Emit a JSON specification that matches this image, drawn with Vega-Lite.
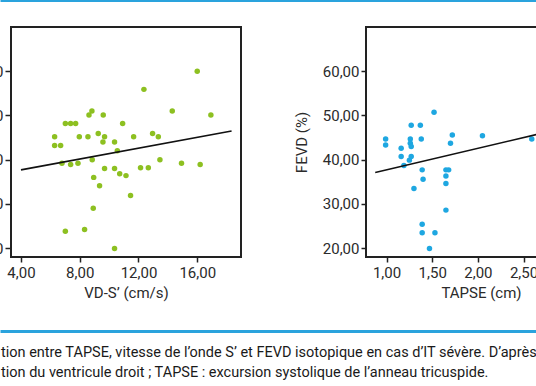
{
  "$schema": "https://vega.github.io/schema/vega-lite/v6.json",
  "background": "white",
  "padding": {"left": -62, "top": 0, "right": -61, "bottom": 0},
  "config": {
    "font": "Roboto",
    "axis": {"labelFont": "Roboto", "titleFont": "Roboto", "labelFontSize": 15, "titleFontSize": 15, "labelColor": "#2b2b2b", "titleColor": "#2b2b2b", "titleFontWeight": "normal", "grid": false, "domain": false, "tickColor": "#222222", "tickWidth": 1.5},
    "view": {"stroke": "#222222", "strokeWidth": 2}
  },
  "datasets": {
    "vds": [
      {"s": 16.0, "fevd": 60.0}, {"s": 12.37, "fevd": 55.9}, {"s": 14.3, "fevd": 51.0}, {"s": 16.93, "fevd": 50.1},
      {"s": 8.83, "fevd": 51.0}, {"s": 8.63, "fevd": 50.1}, {"s": 9.6, "fevd": 50.1}, {"s": 7.02, "fevd": 48.2},
      {"s": 7.38, "fevd": 48.2}, {"s": 7.72, "fevd": 48.2}, {"s": 10.92, "fevd": 48.2}, {"s": 6.29, "fevd": 45.2},
      {"s": 7.97, "fevd": 45.2}, {"s": 8.56, "fevd": 45.2}, {"s": 9.26, "fevd": 45.9}, {"s": 9.69, "fevd": 45.2},
      {"s": 9.58, "fevd": 44.0}, {"s": 11.67, "fevd": 45.2}, {"s": 12.96, "fevd": 45.9}, {"s": 13.35, "fevd": 45.2},
      {"s": 6.29, "fevd": 43.2}, {"s": 6.7, "fevd": 43.2}, {"s": 10.37, "fevd": 44.0}, {"s": 10.56, "fevd": 42.0},
      {"s": 6.79, "fevd": 39.2}, {"s": 7.38, "fevd": 38.9}, {"s": 7.88, "fevd": 39.2}, {"s": 8.85, "fevd": 40.0},
      {"s": 9.69, "fevd": 38.0}, {"s": 10.37, "fevd": 38.0}, {"s": 10.72, "fevd": 36.8}, {"s": 11.15, "fevd": 36.4},
      {"s": 12.14, "fevd": 38.2}, {"s": 12.67, "fevd": 38.2}, {"s": 13.46, "fevd": 40.0}, {"s": 14.93, "fevd": 39.2},
      {"s": 16.2, "fevd": 38.9}, {"s": 8.95, "fevd": 36.0}, {"s": 9.35, "fevd": 34.1}, {"s": 11.46, "fevd": 31.9},
      {"s": 8.92, "fevd": 29.0}, {"s": 7.02, "fevd": 23.8}, {"s": 8.33, "fevd": 24.2}, {"s": 10.37, "fevd": 19.9}
    ],
    "tapse": [
      {"t": 1.52, "fevd": 50.75}, {"t": 1.27, "fevd": 47.8}, {"t": 1.37, "fevd": 47.8}, {"t": 0.99, "fevd": 44.7},
      {"t": 0.99, "fevd": 43.3}, {"t": 1.26, "fevd": 44.7}, {"t": 1.26, "fevd": 43.7}, {"t": 1.27, "fevd": 43.0},
      {"t": 1.38, "fevd": 44.7}, {"t": 1.16, "fevd": 42.6}, {"t": 1.16, "fevd": 40.7}, {"t": 1.27, "fevd": 40.7},
      {"t": 1.25, "fevd": 39.9}, {"t": 1.19, "fevd": 38.7}, {"t": 1.39, "fevd": 37.7}, {"t": 1.4, "fevd": 35.6},
      {"t": 1.3, "fevd": 33.5}, {"t": 1.72, "fevd": 45.6}, {"t": 1.7, "fevd": 43.7}, {"t": 2.05, "fevd": 45.4},
      {"t": 2.59, "fevd": 44.7}, {"t": 1.65, "fevd": 37.7}, {"t": 1.68, "fevd": 37.7}, {"t": 1.65, "fevd": 36.3},
      {"t": 1.65, "fevd": 34.6}, {"t": 1.65, "fevd": 28.6}, {"t": 1.39, "fevd": 25.4}, {"t": 1.39, "fevd": 23.5},
      {"t": 1.53, "fevd": 23.5}, {"t": 1.47, "fevd": 19.9}
    ],
    "fitL": [{"s": 4.0, "fevd": 37.7}, {"s": 18.34, "fevd": 46.5}],
    "fitR": [{"t": 0.876, "fevd": 37.1}, {"t": 3.2, "fevd": 48.4}],
    "caption": [
      {"line": 1, "text": "tion entre TAPSE, vitesse de l’onde S’ et FEVD isotopique en cas d’IT sévère. D’après"},
      {"line": 2, "text": "tion du ventricule droit ; TAPSE : excursion systolique de l’anneau tricuspide."}
    ]
  },
  "spacing": 25,
  "vconcat": [
    {
      "data": {"values": [{}]},
      "width": 560,
      "height": 1,
      "view": {"stroke": null},
      "mark": {"type": "rule", "opacity": 0},
      "encoding": {
        "x": {"datum": 0, "type": "quantitative", "scale": {"domain": [0, 1]},
          "axis": {"orient": "top", "position": -11, "domain": true, "domainColor": "#2aa3dd", "domainWidth": 3, "ticks": false, "labels": false, "title": null}}
      }
    },
    {
      "hconcat": [
        {
          "width": 230,
          "height": 230,
          "layer": [
            {
              "data": {"name": "vds"},
              "mark": {"type": "circle", "size": 30, "color": "#8dc021", "opacity": 1},
              "encoding": {
                "x": {"field": "s", "type": "quantitative", "scale": {"domain": [3.32, 18.98], "nice": false, "zero": false},
                  "axis": {"values": [4, 8, 12, 16], "labelExpr": "replace(format(datum.value, '.2f'), '.', ',')", "title": "VD-S’ (cm/s)", "tickSize": 5, "labelPadding": 3, "titlePadding": 5}},
                "y": {"field": "fevd", "type": "quantitative", "scale": {"domain": [18, 70], "nice": false, "zero": false},
                  "axis": {"values": [20, 30, 40, 50, 60], "labelExpr": "replace(format(datum.value, '.2f'), '.', ',')", "title": "FEVD (%)", "tickSize": 6, "labelPadding": 2, "titlePadding": 12}}
              }
            },
            {
              "data": {"name": "fitL"},
              "mark": {"type": "line", "color": "#111111", "strokeWidth": 1.6},
              "encoding": {
                "x": {"field": "s", "type": "quantitative"},
                "y": {"field": "fevd", "type": "quantitative"}
              }
            }
          ]
        },
        {
          "width": 230,
          "height": 230,
          "layer": [
            {
              "data": {"name": "tapse"},
              "mark": {"type": "circle", "size": 30, "color": "#1ea7e1", "opacity": 1, "clip": true},
              "encoding": {
                "x": {"field": "t", "type": "quantitative", "scale": {"domain": [0.775, 3.293], "nice": false, "zero": false},
                  "axis": {"values": [1, 1.5, 2, 2.5, 3], "labelExpr": "replace(format(datum.value, '.2f'), '.', ',')", "title": "TAPSE (cm)", "tickSize": 5, "labelPadding": 3, "titlePadding": 5}},
                "y": {"field": "fevd", "type": "quantitative", "scale": {"domain": [18, 70], "nice": false, "zero": false},
                  "axis": {"values": [20, 30, 40, 50, 60], "labelExpr": "replace(format(datum.value, '.2f'), '.', ',')", "title": "FEVD (%)", "tickSize": 5, "labelPadding": 2, "titlePadding": 13}}
              }
            },
            {
              "data": {"name": "fitR"},
              "mark": {"type": "line", "color": "#111111", "strokeWidth": 1.6, "clip": true},
              "encoding": {
                "x": {"field": "t", "type": "quantitative"},
                "y": {"field": "fevd", "type": "quantitative"}
              }
            }
          ]
        }
      ],
      "spacing": 125,
      "bounds": "flush"
    },
    {
      "data": {"name": "caption"},
      "width": 560,
      "height": 40,
      "view": {"stroke": null},
      "mark": {"type": "text", "align": "left", "baseline": "alphabetic", "dx": -10, "dy": 21, "fontSize": 14.5, "color": "#1a1a1a", "limit": 537, "ellipsis": " "},
      "encoding": {
        "x": {"datum": 0, "type": "quantitative", "scale": {"domain": [0, 1]},
          "axis": {"orient": "top", "position": -11, "offset": -5, "domain": true, "domainColor": "#2aa3dd", "domainWidth": 3, "ticks": false, "labels": false, "title": null}},
        "y": {"field": "line", "type": "ordinal", "scale": {"type": "point", "padding": 0.5}, "axis": null},
        "text": {"field": "text"}
      }
    }
  ]
}
